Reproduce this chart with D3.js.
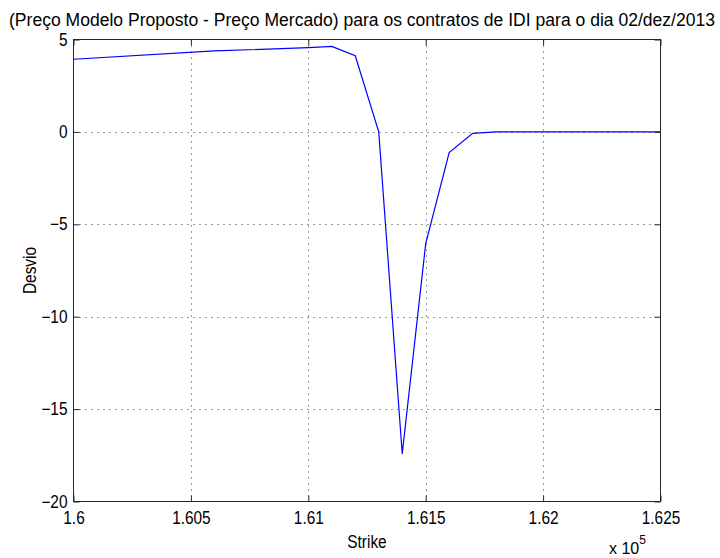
<!DOCTYPE html>
<html>
<head>
<meta charset="utf-8">
<script src="https://cdn.jsdelivr.net/npm/d3@7"></script>
<style>
  body { margin: 0; background: #fff; }
  svg { display: block; }
  text { font-family: "Liberation Sans", Arial, sans-serif; fill: #000; }
  .grid line { stroke: #333; stroke-width: 1; stroke-dasharray: 1,5; }
</style>
</head>
<body>
<svg id="chart" width="720" height="558"></svg>
<script>
(function() {
    'use strict';

    // Strike values and model-minus-market deviation
    const strikes = [160000, 160600, 161000, 161100, 161200, 161300, 161400, 161500, 161600, 161700, 161800, 162000, 162200, 162500];
    const desvio  = [3.93, 4.38, 4.56, 4.63, 4.12, 0.0, -17.42, -6.05, -1.12, -0.08, 0.0, 0.0, 0.0, 0.0];

    const xTicks = [160000, 160500, 161000, 161500, 162000, 162500];
    const xTickLabels = ['1.6', '1.605', '1.61', '1.615', '1.62', '1.625'];
    const yTicks = [5, 0, -5, -10, -15, -20];

    const titleText = '(Preço Modelo Proposto - Preço Mercado) para os contratos de IDI para o dia 02/dez/2013';

    const plotLeft = 73.5, plotRight = 660.5, plotTop = 39.5, plotBottom = 501.5;
    const FONT = '17.5px';
    const SQUEEZE = 0.88;   // the original font is narrower than Liberation Sans

    const svg = d3.select('#chart');

    const x = d3.scaleLinear().domain([160000, 162500]).range([plotLeft, plotRight]);
    const y = d3.scaleLinear().domain([-20, 5]).range([plotBottom, plotTop]);

    // narrow a text node horizontally
    function squeeze(sel, factor) {
        sel.each(function() {
            const len = this.getComputedTextLength();
            if (len > 0) {
                d3.select(this)
                    .attr('textLength', len * (factor || SQUEEZE))
                    .attr('lengthAdjust', 'spacingAndGlyphs');
            }
        });
    }

    // Grid (dotted)
    const grid = svg.append('g').attr('class', 'grid');
    grid.selectAll('.gx').data(xTicks.slice(1, -1)).enter().append('line')
        .attr('x1', d => Math.round(x(d)) + 0.5).attr('x2', d => Math.round(x(d)) + 0.5)
        .attr('y1', plotTop).attr('y2', plotBottom);
    grid.selectAll('.gy').data(yTicks.slice(1, -1)).enter().append('line')
        .attr('x1', plotLeft).attr('x2', plotRight)
        .attr('y1', d => Math.round(y(d)) + 0.5).attr('y2', d => Math.round(y(d)) + 0.5);

    // Data line
    const line = d3.line()
        .x((d, i) => x(strikes[i]))
        .y(d => y(d));

    svg.append('path')
        .attr('d', line(desvio))
        .attr('fill', 'none')
        .attr('stroke', '#0000ff')
        .attr('stroke-width', 1.2);

    // Axes box with inward ticks (MATLAB style)
    const tickLen = 6;
    const xAxisBottom = d3.axisBottom(x).tickValues(xTicks).tickSize(-tickLen).tickFormat((d, i) => xTickLabels[i]).tickPadding(10);
    const xAxisTop = d3.axisTop(x).tickValues(xTicks).tickSize(-tickLen).tickFormat('');
    const yAxisLeft = d3.axisLeft(y).tickValues(yTicks).tickSize(-tickLen).tickPadding(6);
    const yAxisRight = d3.axisRight(y).tickValues(yTicks).tickSize(-tickLen).tickFormat('');

    function styleAxis(g) {
        g.select('.domain').remove();
        g.selectAll('.tick line').attr('stroke', '#262626');
        g.selectAll('.tick text')
            .style('font-size', FONT)
            .style('font-family', '"Liberation Sans", Arial, sans-serif')
            .attr('fill', '#000')
            .call(squeeze);
    }

    svg.append('g').attr('transform', `translate(0,${plotBottom})`).call(xAxisBottom).call(styleAxis);
    svg.append('g').attr('transform', `translate(0,${plotTop})`).call(xAxisTop).call(styleAxis);
    svg.append('g').attr('transform', `translate(${plotLeft},0)`).call(yAxisLeft).call(styleAxis);
    svg.append('g').attr('transform', `translate(${plotRight},0)`).call(yAxisRight).call(styleAxis);

    svg.append('rect')
        .attr('x', plotLeft).attr('y', plotTop)
        .attr('width', plotRight - plotLeft).attr('height', plotBottom - plotTop)
        .attr('fill', 'none').attr('stroke', '#262626').attr('stroke-width', 1);

    // Labels
    svg.append('text')
        .attr('x', 362).attr('y', 26)
        .attr('text-anchor', 'middle')
        .style('font-size', FONT)
        .attr('textLength', 706).attr('lengthAdjust', 'spacingAndGlyphs')
        .text(titleText);

    svg.append('text')
        .attr('x', (plotLeft + plotRight) / 2).attr('y', 548)
        .attr('text-anchor', 'middle')
        .style('font-size', FONT)
        .text('Strike')
        .call(squeeze);

    svg.append('text')
        .attr('transform', `translate(36,${(plotTop + plotBottom) / 2}) rotate(-90)`)
        .attr('text-anchor', 'middle')
        .style('font-size', FONT)
        .text('Desvio')
        .call(squeeze);

    // x 10^5 multiplier
    const mult = svg.append('text')
        .attr('x', 609).attr('y', 554)
        .style('font-size', '16px');
    mult.append('tspan').text('x 10');
    mult.append('tspan').attr('dy', -10).style('font-size', '12px').text('5');
})();
</script>
</body>
</html>
